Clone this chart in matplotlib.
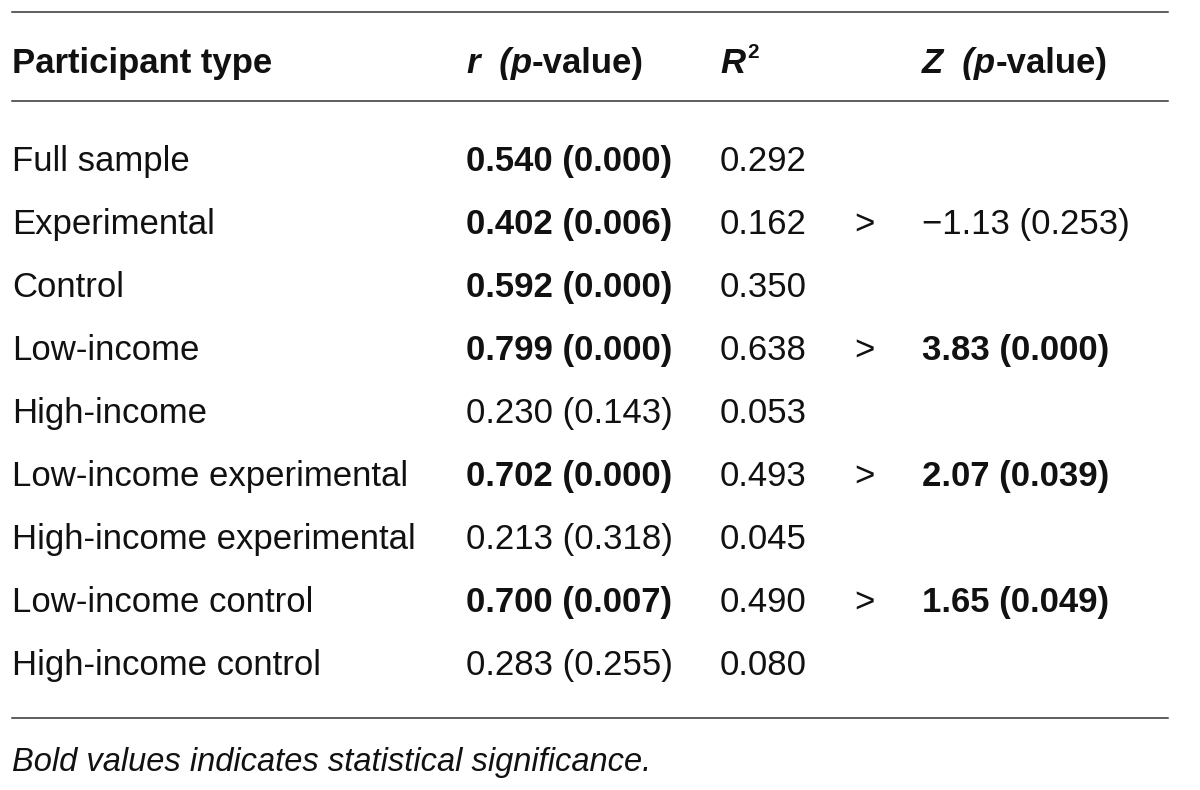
import matplotlib
matplotlib.use("Agg")
import matplotlib.pyplot as plt
from matplotlib.lines import Line2D

# table data
groups = ["Full sample", "Experimental", "Control", "Low-income", "High-income",
          "Low-income experimental", "High-income experimental",
          "Low-income control", "High-income control"]
r_vals = [0.540, 0.402, 0.592, 0.799, 0.230, 0.702, 0.213, 0.700, 0.283]
r_pvals = [0.000, 0.006, 0.000, 0.000, 0.143, 0.000, 0.318, 0.007, 0.255]
r_sig = [True, True, True, True, False, True, False, True, False]
r2_vals = [0.292, 0.162, 0.350, 0.638, 0.053, 0.493, 0.045, 0.490, 0.080]
# Z comparisons sit on the row of the first group of each pair
z_rows = [1, 3, 5, 7]
z_vals = [-1.13, 3.83, 2.07, 1.65]
z_pvals = [0.253, 0.000, 0.039, 0.049]
z_sig = [False, True, True, True]
footnote = "Bold values indicates statistical significance."

W, H = 1200, 790
FONT = "Liberation Sans"
FS = 25
COLOR = "#111111"

fig = plt.figure(figsize=(W / 100, H / 100), dpi=100)
fig.patch.set_facecolor("white")


def fx(px):
    return px / W


def fy(py):
    return 1 - py / H


def put(x, y, s, weight="normal", style="normal", size=FS):
    # y is the text baseline in pixels from the top
    return fig.text(fx(x), fy(y), s, fontsize=size, fontweight=weight, fontstyle=style,
                    family=FONT, color=COLOR, va="baseline", ha="left")


def put_pieces(x, y, pieces):
    # draw consecutive text pieces with different styles on one baseline
    renderer = fig.canvas.get_renderer()
    for s, weight, style in pieces:
        t = put(x, y, s, weight=weight, style=style)
        x += t.get_window_extent(renderer=renderer).width
    return x


def hrule(y):
    fig.add_artist(Line2D([fx(12), fx(1168)], [fy(y), fy(y)], color="#333333", lw=1.1))


hrule(12)
hrule(101)
hrule(718)

# header
hy = 73
put_pieces(12, hy, [("Participant type", "bold", "normal")])
put_pieces(466, hy, [("r", "bold", "italic"), ("  (p", "bold", "italic"),
                     ("-value)", "bold", "normal")])
put_pieces(720, hy, [("R", "bold", "italic")])
put(747, 58, "2", weight="bold", size=15)
put_pieces(922, hy, [("Z", "bold", "italic"), ("  (p", "bold", "italic"),
                     ("-value)", "bold", "normal")])

# body rows
row_y0, row_dy = 171, 63.0
for i, name in enumerate(groups):
    y = row_y0 + i * row_dy
    put(12, y, name)
    w = "bold" if r_sig[i] else "normal"
    put(466, y, f"{r_vals[i]:.3f} ({r_pvals[i]:.3f})", weight=w)
    put(720, y, f"{r2_vals[i]:.3f}")

for row, z, p, sig in zip(z_rows, z_vals, z_pvals, z_sig):
    y = row_y0 + row * row_dy
    put(854, y, ">")
    w = "bold" if sig else "normal"
    zs = f"{z:.2f}".replace("-", "\u2212")
    put(922, y, f"{zs} ({p:.3f})", weight=w)

put(12, 771, footnote, style="italic", size=23.5)

fig.savefig("out.png", dpi=100)
